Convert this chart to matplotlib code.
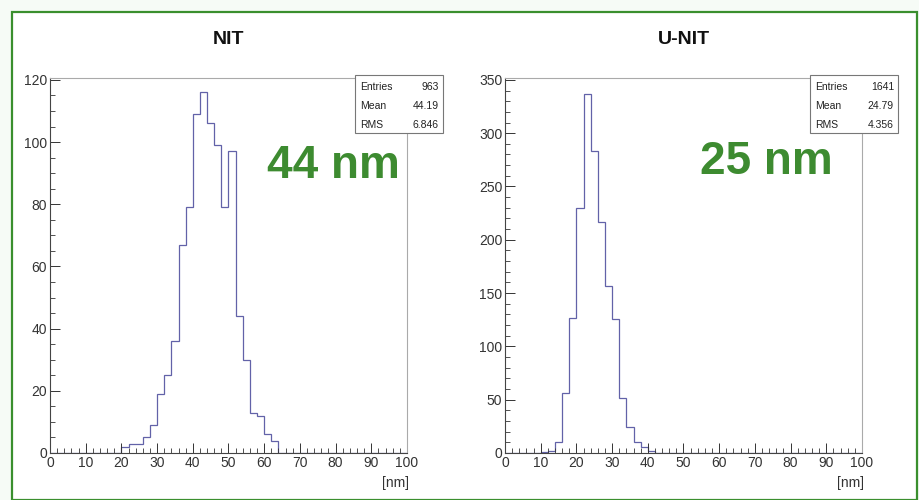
import matplotlib.pyplot as plt
from matplotlib.patches import Rectangle
from matplotlib.ticker import MultipleLocator
import numpy as np

plt.rcParams['font.family'] = ['Liberation Sans', 'DejaVu Sans']

# histogram contents, 2 nm bins starting at 'start'
bin_width = 2
nit_start = 20
nit_counts = [2, 3, 3, 5, 9, 19, 25, 36, 67, 79, 109, 116, 106, 99, 79, 97,
              44, 30, 13, 12, 6, 4]
unit_start = 10
unit_counts = [1, 2, 10, 56, 127, 230, 337, 283, 217, 157, 126, 52, 24, 10, 6, 2]

nit_stats = ["963", "44.19", "6.846"]
unit_stats = ["1641", "24.79", "4.356"]

panels = [
    ("NIT", nit_start, nit_counts, nit_stats, "44 nm", 120, 20, 5, 333, 166),
    ("U-NIT", unit_start, unit_counts, unit_stats, "25 nm", 350, 50, 10, 766, 162),
]

fig = plt.figure(figsize=(9.2, 5.0), dpi=100, facecolor='#f6fbf6')
fig.patches.append(Rectangle((12/920, 0), 905/920, 488/500, transform=fig.transFigure,
                             facecolor='white', edgecolor='#3a8f2e', linewidth=1.6,
                             zorder=-10))

lefts = [50/920, 505/920]
for (title, start, counts, stats, big, ymax, ymaj, ymin, bxp, byp), left in zip(panels, lefts):
    ax = fig.add_axes([left, 47/500, 357/920, 375/500])
    ax.patch.set_alpha(0)
    edges = np.arange(0, 100 + bin_width, bin_width)
    full = np.zeros(len(edges) - 1)
    i0 = start // bin_width
    full[i0:i0 + len(counts)] = counts
    ax.stairs(full, edges, color='#6262a8', linewidth=0.9)
    ax.set_xlim(0, 100)
    ax.set_ylim(0, ymax * 1.005)
    ax.xaxis.set_major_locator(MultipleLocator(10))
    ax.xaxis.set_minor_locator(MultipleLocator(2))
    ax.yaxis.set_major_locator(MultipleLocator(ymaj))
    ax.yaxis.set_minor_locator(MultipleLocator(ymin))
    ax.tick_params(which='both', direction='in', top=False, right=False,
                   labelsize=10, colors='#333333', pad=2)
    ax.tick_params(which='major', length=7, width=0.7)
    ax.tick_params(which='minor', length=3.5, width=0.6)
    for side in ['top', 'right']:
        ax.spines[side].set_color('#aaaaaa')
        ax.spines[side].set_linewidth(0.8)
    for side in ['left', 'bottom']:
        ax.spines[side].set_color('#444444')
        ax.spines[side].set_linewidth(0.8)

    ax.text(0.93, -0.06, "[nm]", transform=ax.transAxes, fontsize=10,
            color='#333333', ha='left', va='top')
    fig.text(left + 357/920/2, 1 - 40/500, title, ha='center', va='center',
             fontsize=14, fontweight='bold', color='#111111')

    # stats box
    bx = left + 305/920
    box = Rectangle((bx, 1 - 133/500), 88/920, 58/500, transform=fig.transFigure,
                    facecolor='white', edgecolor='#777777', linewidth=0.8, zorder=5)
    fig.patches.append(box)
    for k, name in enumerate(["Entries", "Mean", "RMS"]):
        yy = 1 - (87 + k*19)/500
        fig.text(bx + 5/920, yy, name, fontsize=7.5, color='#222222',
                 va='center', ha='left', zorder=6)
        fig.text(bx + 84/920, yy, stats[k], fontsize=7.5, color='#222222',
                 va='center', ha='right', zorder=6)

    fig.text(bxp/920, 1 - byp/500, big, fontsize=33, fontweight='bold',
             color='#3d8b30', ha='center', va='center', zorder=7)

fig.savefig("out.png", dpi=100, facecolor=fig.get_facecolor())
